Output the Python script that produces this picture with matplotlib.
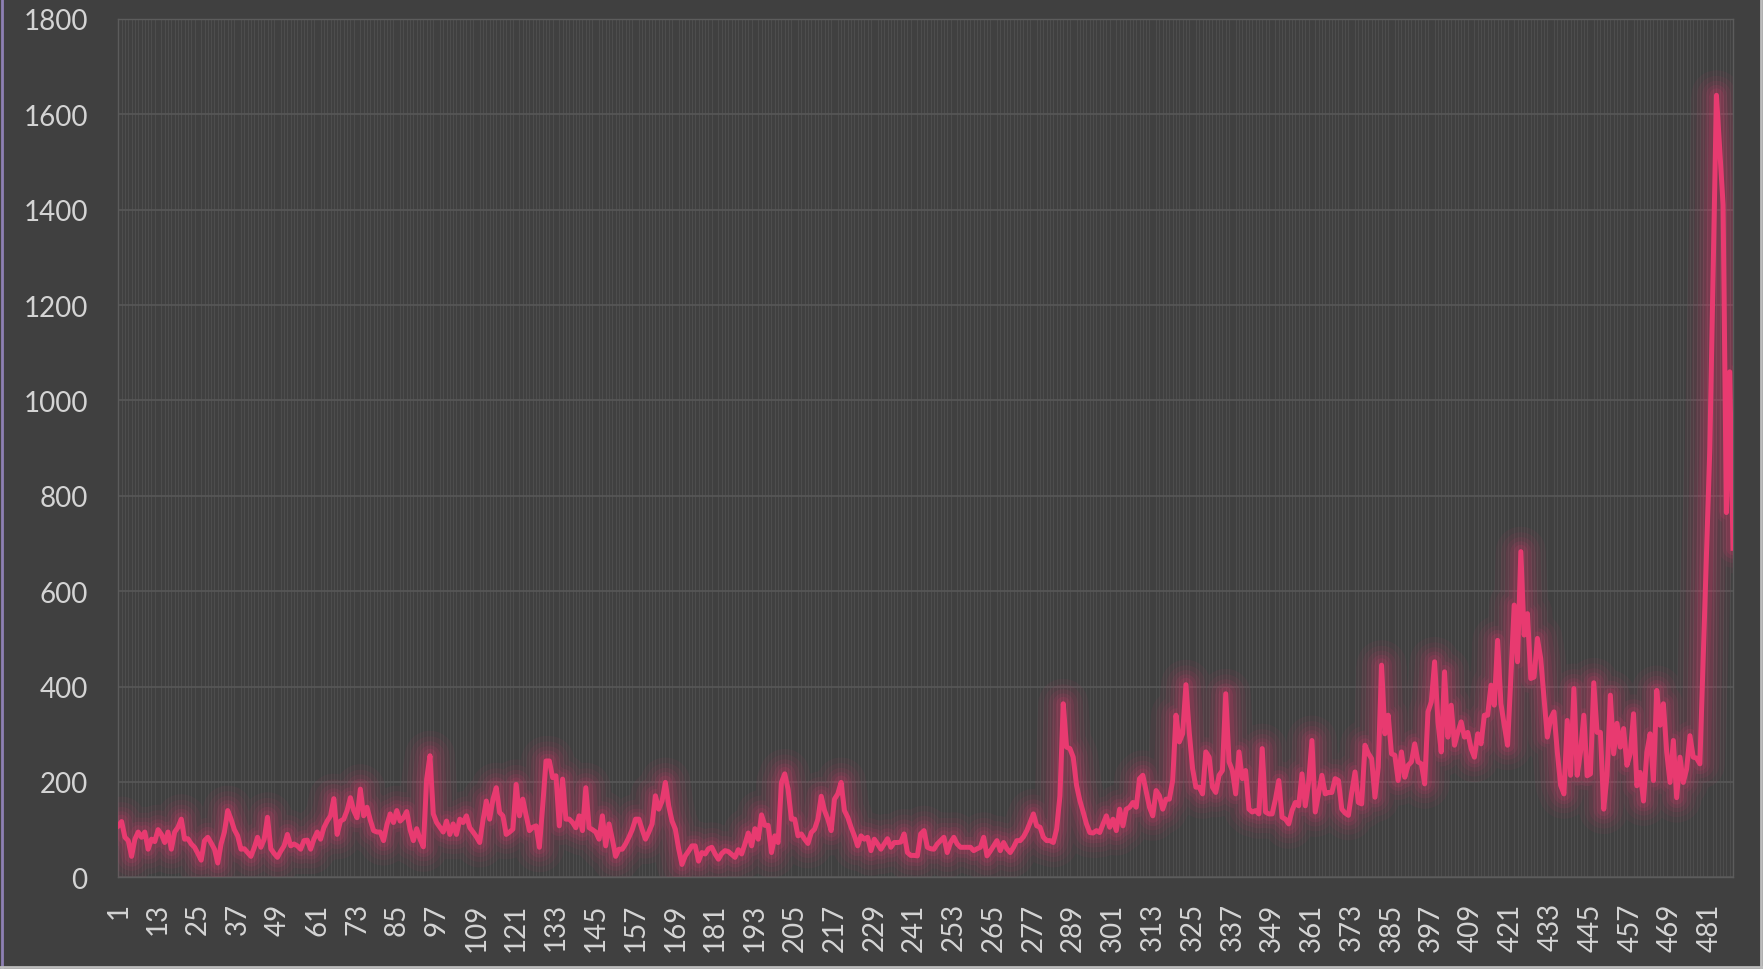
import matplotlib.pyplot as plt
from matplotlib.ticker import MultipleLocator
from matplotlib.lines import Line2D

# values, one per category (1..488)
values = [
    108, 117, 84, 77, 44, 80, 95, 84, 95, 59, 80, 75, 100, 90, 73, 95, 59, 95, 105, 122,
    80, 81, 70, 63, 50, 36, 77, 84, 72, 59, 30, 70, 95, 140, 122, 100, 87, 59, 60, 52,
    44, 62, 84, 63, 80, 126, 60, 50, 42, 55, 66, 90, 66, 70, 66, 59, 77, 78, 59, 80,
    95, 80, 104, 118, 129, 165, 90, 118, 122, 140, 167, 140, 125, 185, 129, 147, 120, 98, 95, 95,
    77, 110, 133, 115, 140, 118, 125, 138, 100, 77, 102, 80, 64, 206, 255, 133, 115, 105, 95, 118,
    90, 112, 90, 122, 115, 129, 104, 95, 85, 73, 120, 160, 122, 164, 188, 136, 129, 90, 95, 101,
    195, 129, 164, 130, 98, 105, 108, 63, 150, 244, 244, 209, 213, 108, 206, 122, 122, 115, 104, 129,
    98, 188, 104, 100, 95, 80, 129, 66, 112, 80, 44, 59, 59, 70, 84, 100, 122, 122, 100, 80,
    95, 112, 171, 143, 160, 199, 150, 118, 101, 60, 27, 45, 55, 66, 66, 34, 52, 49, 60, 63,
    49, 38, 50, 56, 54, 48, 42, 58, 49, 70, 93, 66, 102, 80, 131, 109, 109, 52, 87, 73,
    199, 217, 185, 122, 122, 87, 91, 80, 71, 94, 101, 122, 170, 140, 122, 98, 164, 175, 199, 140,
    126, 105, 87, 66, 87, 80, 84, 56, 80, 70, 59, 70, 81, 63, 73, 73, 74, 91, 52, 46,
    46, 45, 91, 98, 63, 60, 59, 70, 77, 84, 52, 73, 84, 70, 63, 63, 63, 63, 56, 60,
    63, 84, 45, 55, 66, 77, 56, 73, 60, 52, 63, 77, 77, 85, 98, 115, 133, 108, 105, 84,
    77, 77, 73, 101, 171, 364, 273, 270, 252, 193, 161, 137, 112, 94, 93, 98, 94, 112, 129, 105,
    122, 98, 143, 108, 143, 147, 157, 147, 207, 214, 180, 147, 129, 182, 171, 143, 164, 164, 203, 340,
    284, 301, 404, 304, 228, 189, 189, 175, 263, 252, 189, 178, 214, 224, 385, 242, 224, 175, 263, 207,
    224, 143, 137, 140, 133, 270, 137, 133, 133, 164, 203, 126, 122, 112, 140, 157, 150, 217, 150, 200,
    287, 137, 175, 214, 175, 178, 178, 207, 203, 143, 135, 130, 178, 221, 157, 154, 277, 260, 249, 168,
    231, 445, 301, 340, 259, 256, 203, 263, 210, 235, 242, 280, 242, 238, 196, 347, 368, 452, 326, 263,
    431, 294, 361, 277, 304, 326, 294, 304, 270, 252, 301, 280, 340, 340, 403, 361, 497, 364, 319, 277,
    420, 571, 452, 683, 508, 553, 417, 420, 501, 459, 375, 294, 333, 347, 263, 193, 175, 329, 214, 396,
    214, 263, 340, 213, 217, 408, 304, 304, 143, 213, 382, 259, 323, 273, 312, 235, 259, 343, 192, 220,
    160, 262, 301, 203, 392, 319, 364, 262, 199, 287, 167, 252, 199, 227, 297, 252, 250, 238, 460, 680,
    900, 1270, 1640, 1525, 1410, 765, 1060, 690,
]
categories = list(range(1, len(values) + 1))
tick_positions = list(range(1, len(values) + 1, 12))
tick_labels = [str(t) for t in tick_positions]
y_ticks = list(range(0, 1801, 200))

bg = '#404040'
pink = '#e83a70'
txt = '#d4d4d4'

plt.rcParams['font.family'] = ['Lato', 'DejaVu Sans']

fig = plt.figure(figsize=(17.63, 9.70), dpi=100, facecolor=bg)
ax = fig.add_axes([0.0671, 0.0945, 0.9159, 0.8849])
ax.set_facecolor(bg)

# soft glow under the line
for lw, a in [(36, 0.05), (28, 0.06), (21, 0.08), (15, 0.10), (10, 0.13)]:
    ax.plot(categories, values, color=pink, lw=lw, alpha=a, solid_joinstyle='round',
            solid_capstyle='round', zorder=3)
ax.plot(categories, values, color=pink, lw=3.6, solid_joinstyle='round', zorder=4)

ax.set_xlim(1, len(values))
ax.set_ylim(0, 1800)
ax.set_yticks(y_ticks)
ax.set_xticks(tick_positions)
ax.set_xticklabels(tick_labels, rotation=90)
ax.xaxis.set_minor_locator(MultipleLocator(1))

ax.grid(True, axis='y', which='major', color='#575757', lw=1.2, zorder=1)
ax.grid(True, axis='x', which='minor', color='#4d4d4d', lw=0.8, zorder=1)
ax.grid(False, axis='x', which='major')
ax.set_axisbelow(True)

ax.tick_params(axis='both', which='both', length=0, colors=txt, labelsize=20)
ax.tick_params(axis='y', pad=22)
ax.tick_params(axis='x', pad=18)

for s in ax.spines.values():
    s.set_color('#5c5c5c')
    s.set_linewidth(1)

# chart border
fig.add_artist(Line2D([0.001, 0.001], [0, 1], color='#8e80b4', lw=2, transform=fig.transFigure))
fig.add_artist(Line2D([0, 1], [0.002, 0.002], color='#bdbdbd', lw=2, transform=fig.transFigure))
fig.add_artist(Line2D([0.999, 0.999], [0, 1], color='#bdbdbd', lw=2, transform=fig.transFigure))

fig.savefig('out.png', dpi=100, facecolor=bg)
